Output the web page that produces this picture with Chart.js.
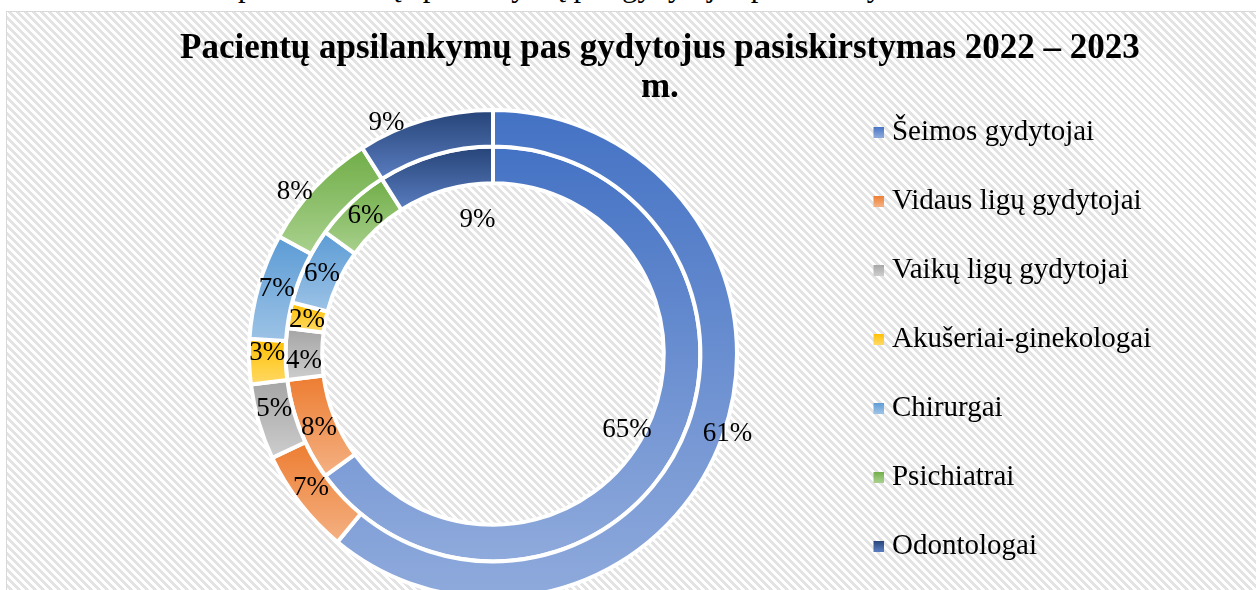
<!DOCTYPE html>
<html>
<head>
<meta charset="utf-8">
<script src="https://cdn.jsdelivr.net/npm/chart.js@4.4.1/dist/chart.umd.min.js"></script>
<style>
html,body{margin:0;padding:0;width:1256px;height:590px;overflow:hidden;background:#fff;}
#caption{position:absolute;left:215px;top:-29px;font:30.7px/1 "Liberation Serif","Times New Roman",serif;color:#000;white-space:nowrap;}
#frame{position:absolute;left:6px;top:11px;width:1300px;height:700px;border-left:1px solid #d9d9d9;border-top:1px solid #d9d9d9;background-color:#fff;
background-image:repeating-linear-gradient(45deg,#ffffff 0px,#ffffff 2.9px,#e3e3e3 2.9px,#e3e3e3 5.66px);}
#c{position:absolute;left:0;top:0;}
</style>
</head>
<body>
<div id="caption">3 pav. Pacientų apsilankymų pas gydytojus pasiskirstymas</div>
<div id="frame"></div>
<canvas id="c" width="1256" height="678"></canvas>
<script>
// ---- data ----
const categories = ['Šeimos gydytojai', 'Vidaus ligų gydytojai', 'Vaikų ligų gydytojai', 'Akušeriai-ginekologai', 'Chirurgai', 'Psichiatrai', 'Odontologai'];
const seriesNames = ['2023', '2022'];          // outer ring, inner ring
const outerValues = [61, 7, 5, 3, 7, 8, 9];
const innerValues = [65, 8, 4, 2, 6, 6, 9];
const titleLines = ['Pacientų apsilankymų pas gydytojus pasiskirstymas 2022 – 2023', 'm.'];

// ---- styles ----
const topColors = ['#4472C4', '#ED7D31', '#A5A5A5', '#FFC000', '#5B9BD5', '#70AD47', '#264478'];
const bottomColors = ['#8FAADC', '#F4B183', '#CDCDCD', '#FFD966', '#9DC3E6', '#A9D18E', '#5A7DC0'];
// label placement tweaks: radial offset (px) from ring middle, angular offset (deg)
const labelPlacement = [
  [{dr: 22, da: -1}, {dr: 0, da: 1.5}, {dr: 0, da: 2}, {dr: 0, da: 2}, {dr: 0, da: 0.5}, {dr: 30, da: -4}, {dr: 29, da: -8.5}],
  [{dr: -35, da: 2.5}, {dr: 0, da: -1.5}, {dr: 0, da: -2}, {dr: 0, da: -0.5}, {dr: 0, da: 0}, {dr: -1, da: 0.5}, {dr: -54, da: 9.6}]
];
const serif = '"Liberation Serif", "Times New Roman", serif';

function swatch(top, bottom) {
  const c = document.createElement('canvas');
  c.width = 24; c.height = 11;
  const x = c.getContext('2d');
  const g = x.createLinearGradient(0, 0, 0, 11);
  g.addColorStop(0, top); g.addColorStop(1, bottom);
  x.fillStyle = g;
  x.fillRect(13, 0, 11, 11);
  return c;
}
const swatches = topColors.map((t, i) => swatch(t, bottomColors[i]));

const gradientPlugin = {
  id: 'segGradient',
  beforeDatasetsDraw(chart) {
    const ctx = chart.ctx;
    chart.data.datasets.forEach((ds, di) => {
      const meta = chart.getDatasetMeta(di);
      meta.data.forEach((arc, i) => {
        const p = arc.getProps(['x', 'y', 'startAngle', 'endAngle', 'innerRadius', 'outerRadius'], true);
        const ys = [];
        [p.startAngle, p.endAngle].forEach(a => {
          ys.push(p.y + Math.sin(a) * p.outerRadius, p.y + Math.sin(a) * p.innerRadius);
        });
        for (let k = -4; k <= 4; k++) {
          const a = Math.PI / 2 + k * Math.PI;
          if (a > p.startAngle && a < p.endAngle) ys.push(p.y + Math.sin(a) * p.outerRadius);
        }
        const y0 = Math.min(...ys), y1 = Math.max(...ys);
        const g = ctx.createLinearGradient(0, y0, 0, y1);
        g.addColorStop(0, topColors[i]);
        g.addColorStop(1, bottomColors[i]);
        arc.options.backgroundColor = g;
      });
    });
  }
};

const labelPlugin = {
  id: 'sliceLabels',
  afterDatasetsDraw(chart) {
    const ctx = chart.ctx;
    ctx.save();
    ctx.font = '27px ' + serif;
    ctx.fillStyle = '#000';
    ctx.textAlign = 'center';
    ctx.textBaseline = 'middle';
    chart.data.datasets.forEach((ds, di) => {
      const meta = chart.getDatasetMeta(di);
      const total = ds.data.reduce((a, b) => a + b, 0);
      meta.data.forEach((arc, i) => {
        const p = arc.getProps(['x', 'y', 'startAngle', 'endAngle', 'innerRadius', 'outerRadius'], true);
        const pl = labelPlacement[di][i];
        const a = (p.startAngle + p.endAngle) / 2 + pl.da * Math.PI / 180;
        const r = (p.innerRadius + p.outerRadius) / 2 + pl.dr;
        ctx.fillText(Math.round(ds.data[i] / total * 100) + '%', p.x + Math.cos(a) * r, p.y + Math.sin(a) * r);
      });
    });
    ctx.restore();
  }
};

new Chart(document.getElementById('c'), {
  type: 'doughnut',
  data: {
    labels: categories,
    datasets: [
      {label: seriesNames[0], data: outerValues, backgroundColor: topColors.slice(), borderColor: '#ffffff', borderWidth: 4},
      {label: seriesNames[1], data: innerValues, backgroundColor: topColors.slice(), borderColor: '#ffffff', borderWidth: 4}
    ]
  },
  options: {
    responsive: false,
    animation: false,
    events: [],
    radius: 244,
    cutout: '70%',
    layout: {padding: {left: 158.5, right: 94.7, top: 0, bottom: 0}},
    plugins: {
      tooltip: {enabled: false},
      title: {
        display: true,
        text: titleLines,
        color: '#000',
        font: {family: serif, size: 35, weight: 'bold', lineHeight: 1.12},
        padding: {top: 29.4, bottom: -77.8}
      },
      legend: {
        display: true,
        position: 'right',
        fullSize: true,
        labels: {
          color: '#000',
          font: {family: serif, size: 29},
          usePointStyle: true,
          pointStyleWidth: 10,
          padding: 40,
          generateLabels() {
            return categories.map((name, i) => ({
              text: name,
              fillStyle: topColors[i],
              strokeStyle: topColors[i],
              lineWidth: 0,
              hidden: false,
              index: i,
              pointStyle: swatches[i]
            }));
          }
        }
      }
    }
  },
  plugins: [gradientPlugin, labelPlugin]
});
</script>
</body>
</html>
